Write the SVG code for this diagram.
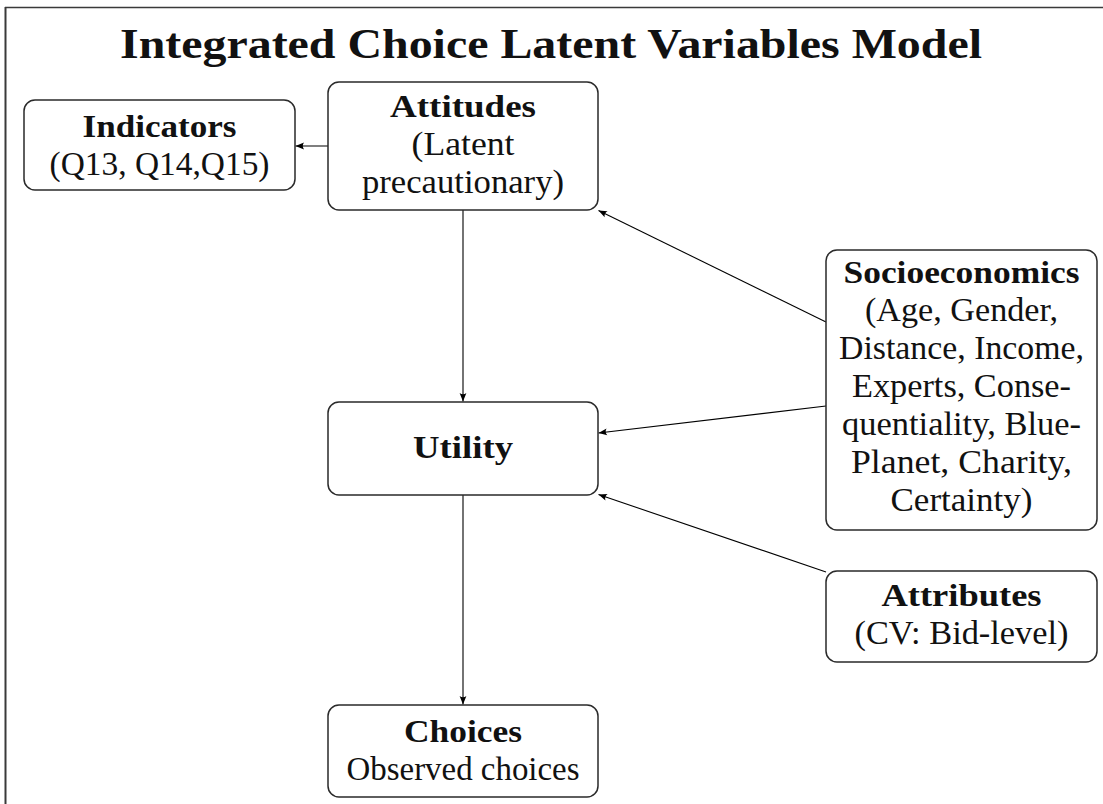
<svg xmlns="http://www.w3.org/2000/svg" width="1103" height="804" viewBox="0 0 1103 804">
  <style>
    .box { fill: #ffffff; stroke: #2a2a2a; stroke-width: 1.5; }
    .t { font-family: "Liberation Serif", "DejaVu Serif", serif; font-size: 33px; font-weight: normal; fill: #111; text-anchor: middle; }
    .b { font-weight: bold; font-size: 32px; }
    .title { font-family: "Liberation Serif", "DejaVu Serif", serif; font-size: 43px; font-weight: bold; fill: #111; text-anchor: middle; }
    .edge { stroke: #000; stroke-width: 1.1; fill: none; marker-end: url(#tip); }
    .frame { stroke: #3a3a3a; fill: none; }
  </style>
  <defs>
    <marker id="tip" viewBox="-10 -5 11 10" refX="0" refY="0" markerWidth="11" markerHeight="10" markerUnits="userSpaceOnUse" orient="auto">
      <path d="M0,0 L-8.5,-3.4 Q-6,0 -8.5,3.4 Z" fill="#000"/>
    </marker>
  </defs>

  <rect width="1103" height="804" fill="#ffffff"/>

  <!-- page frame: top rule and left edge -->
  <g id="frame">
    <line class="frame" x1="5" y1="7.5" x2="1103" y2="7.5" stroke-width="1.4"/>
    <line class="frame" x1="5.5" y1="7" x2="5.5" y2="804" stroke-width="2" stroke="#111"/>
  </g>

  <text class="title" x="551" y="58" textLength="862" lengthAdjust="spacingAndGlyphs">Integrated Choice Latent Variables Model</text>

  <!-- connectors -->
  <g id="connectors">
    <line class="edge" x1="328" y1="146" x2="295.5" y2="146"/>
    <line class="edge" x1="463" y1="210" x2="463" y2="401.5"/>
    <line class="edge" x1="826" y1="322" x2="598.5" y2="210.5"/>
    <line class="edge" x1="826" y1="406" x2="598.5" y2="433"/>
    <line class="edge" x1="826" y1="572" x2="598.5" y2="494.5"/>
    <line class="edge" x1="463" y1="495" x2="463" y2="704.5"/>
  </g>

  <g id="indicators">
    <rect class="box" x="24" y="100" width="271" height="90" rx="11"/>
    <text class="t b" x="159.5" y="137" textLength="154" lengthAdjust="spacingAndGlyphs">Indicators</text>
    <text class="t" x="159.5" y="175" textLength="220" lengthAdjust="spacingAndGlyphs">(Q13, Q14,Q15)</text>
  </g>

  <g id="attitudes">
    <rect class="box" x="328" y="82" width="270" height="128" rx="11"/>
    <text class="t b" x="463" y="117" textLength="146" lengthAdjust="spacingAndGlyphs">Attitudes</text>
    <text class="t" x="463" y="155" textLength="103" lengthAdjust="spacingAndGlyphs">(Latent</text>
    <text class="t" x="463" y="193" textLength="202" lengthAdjust="spacingAndGlyphs">precautionary)</text>
  </g>

  <g id="utility">
    <rect class="box" x="328" y="402" width="270" height="93" rx="11"/>
    <text class="t b" x="463" y="458" textLength="100" lengthAdjust="spacingAndGlyphs">Utility</text>
  </g>

  <g id="socioeconomics">
    <rect class="box" x="826" y="250" width="271" height="280" rx="11"/>
    <text class="t b" x="961.5" y="283" textLength="236" lengthAdjust="spacingAndGlyphs">Socioeconomics</text>
    <text class="t" x="961.5" y="321" textLength="193" lengthAdjust="spacingAndGlyphs">(Age, Gender,</text>
    <text class="t" x="961.5" y="359" textLength="245" lengthAdjust="spacingAndGlyphs">Distance, Income,</text>
    <text class="t" x="961.5" y="397" textLength="219" lengthAdjust="spacingAndGlyphs">Experts, Conse-</text>
    <text class="t" x="961.5" y="435" textLength="239" lengthAdjust="spacingAndGlyphs">quentiality, Blue-</text>
    <text class="t" x="961.5" y="473" textLength="221" lengthAdjust="spacingAndGlyphs">Planet, Charity,</text>
    <text class="t" x="961.5" y="511" textLength="142" lengthAdjust="spacingAndGlyphs">Certainty)</text>
  </g>

  <g id="attributes">
    <rect class="box" x="826" y="571" width="271" height="91" rx="11"/>
    <text class="t b" x="961.5" y="606" textLength="160" lengthAdjust="spacingAndGlyphs">Attributes</text>
    <text class="t" x="961.5" y="644" textLength="214" lengthAdjust="spacingAndGlyphs">(CV: Bid-level)</text>
  </g>

  <g id="choices">
    <rect class="box" x="328" y="705" width="270" height="92" rx="11"/>
    <text class="t b" x="463" y="742" textLength="118" lengthAdjust="spacingAndGlyphs">Choices</text>
    <text class="t" x="463" y="780" textLength="233" lengthAdjust="spacingAndGlyphs">Observed choices</text>
  </g>
</svg>
